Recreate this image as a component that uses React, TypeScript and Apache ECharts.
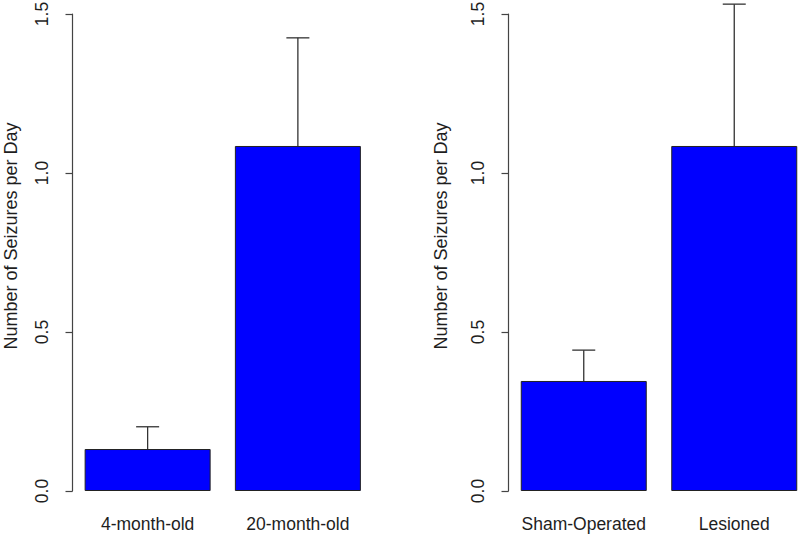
import React, { useEffect, useRef } from 'react';
import * as echarts from 'echarts';

const leftCategories = ['4-month-old', '20-month-old'];
const leftMeans = [0.132, 1.085];
const leftUpper = [0.202, 1.425];

const rightCategories = ['Sham-Operated', 'Lesioned'];
const rightMeans = [0.346, 1.085];
const rightUpper = [0.443, 1.531];

const yMin = 0;
const yMax = 1.5;
const yInterval = 0.5;
const yTitle = 'Number of Seizures per Day';

const FONT = '"Liberation Sans", Arial, Helvetica, sans-serif';
const TEXT = '#1e1e1e';
const AXIS = '#444';

function errorRender(params: any, api: any) {
  const idx = api.value(0);
  const base = api.coord([idx, api.value(1)]);
  const top = api.coord([idx, api.value(2)]);
  const style = { stroke: '#333', lineWidth: 1.3 };
  return {
    type: 'group',
    children: [
      { type: 'line', shape: { x1: base[0], y1: base[1], x2: top[0], y2: top[1] }, style },
      { type: 'line', shape: { x1: top[0] - 11.5, y1: top[1], x2: top[0] + 11.5, y2: top[1] }, style },
    ],
  };
}

function makeYAxis(gridIndex: number) {
  return {
    type: 'value',
    gridIndex,
    min: yMin,
    max: yMax,
    interval: yInterval,
    splitLine: { show: false },
    axisLine: { show: true, lineStyle: { color: AXIS, width: 1.2 } },
    axisTick: { show: true, length: 7, lineStyle: { color: AXIS, width: 1.2 } },
    axisLabel: {
      rotate: 90,
      margin: 22,
      fontSize: 17.5,
      fontFamily: FONT,
      color: TEXT,
      formatter: (v: number) => v.toFixed(1),
    },
  };
}

function makeXAxis(gridIndex: number, data: string[]) {
  return {
    type: 'category',
    gridIndex,
    data,
    axisLine: { show: false },
    axisTick: { show: false },
    axisLabel: { interval: 0, fontSize: 17.5, fontFamily: FONT, color: TEXT, margin: 24 },
  };
}

export default function App() {
  const ref = useRef<HTMLDivElement>(null);
  useEffect(() => {
    document.body.style.margin = '0';
    if (!ref.current) return;
    const chart = echarts.init(ref.current, undefined, { renderer: 'svg' });
    const barStyle = { color: '#0000FF', borderColor: '#222', borderWidth: 1 };
    const titleStyle = { text: yTitle, fontSize: 18, fontFamily: FONT, fill: TEXT, align: 'center', verticalAlign: 'middle' };
    chart.setOption({
      animation: false,
      backgroundColor: '#ffffff',
      grid: [
        { left: 72.5, top: 14, width: 300.5, height: 477, outerBoundsMode: 'none' },
        { left: 508.5, top: 14, width: 301, height: 477, outerBoundsMode: 'none' },
      ],
      xAxis: [makeXAxis(0, leftCategories), makeXAxis(1, rightCategories)],
      yAxis: [makeYAxis(0), makeYAxis(1)],
      graphic: [
        { type: 'text', x: 11, y: 236, rotation: Math.PI / 2, style: titleStyle },
        { type: 'text', x: 441, y: 236, rotation: Math.PI / 2, style: titleStyle },
      ],
      series: [
        { type: 'bar', xAxisIndex: 0, yAxisIndex: 0, data: leftMeans, barWidth: 126, itemStyle: barStyle },
        { type: 'bar', xAxisIndex: 1, yAxisIndex: 1, data: rightMeans, barWidth: 126, itemStyle: barStyle },
        {
          type: 'custom',
          xAxisIndex: 0,
          yAxisIndex: 0,
          clip: false,
          renderItem: errorRender,
          data: leftCategories.map((_, i) => [i, leftMeans[i], leftUpper[i]]),
          z: 5,
        },
        {
          type: 'custom',
          xAxisIndex: 1,
          yAxisIndex: 1,
          clip: false,
          renderItem: errorRender,
          data: rightCategories.map((_, i) => [i, rightMeans[i], rightUpper[i]]),
          z: 5,
        },
      ],
    });
    return () => chart.dispose();
  }, []);
  return <div ref={ref} style={{ width: 800, height: 535 }} />;
}
